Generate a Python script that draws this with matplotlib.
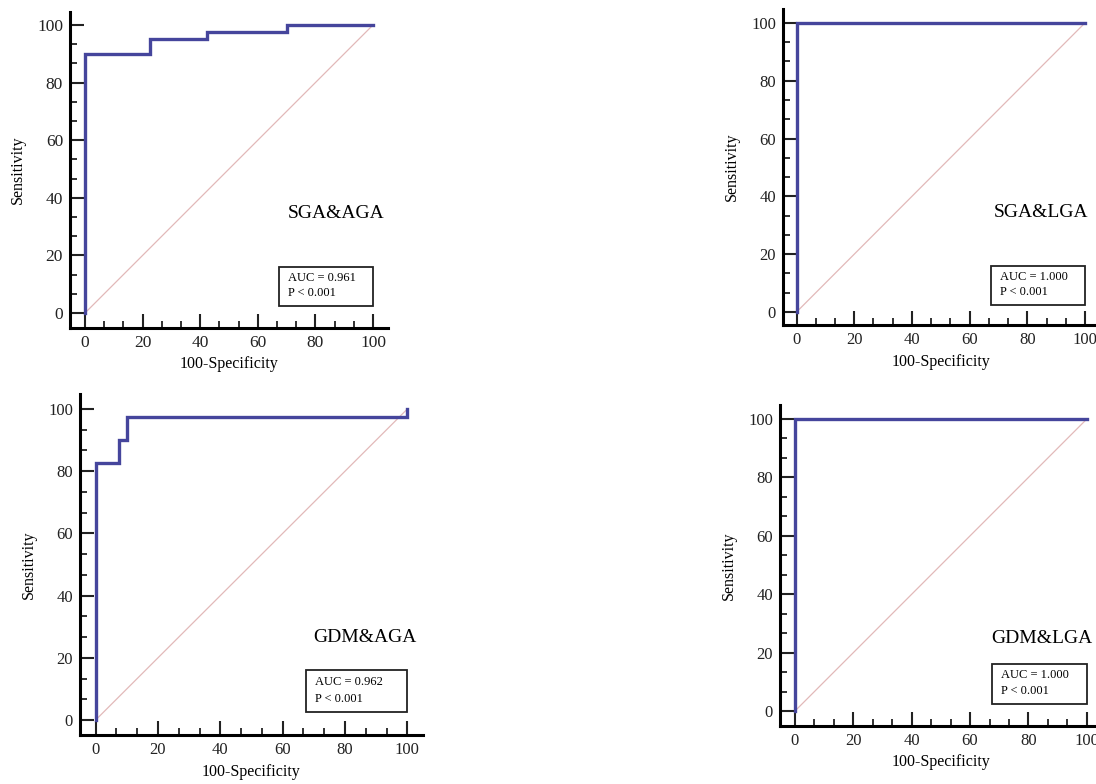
import matplotlib
matplotlib.use("Agg")
import matplotlib.pyplot as plt
from matplotlib.ticker import MultipleLocator, AutoMinorLocator
from matplotlib.patches import Rectangle

plt.rcParams['font.family'] = ['Liberation Serif', 'DejaVu Serif']

W, H = 1096, 784

# ROC step curves (100-Specificity, Sensitivity)
sga_aga_x = [0, 0, 22.5, 22.5, 42.5, 42.5, 70, 70, 100]
sga_aga_y = [0, 90, 90, 95, 95, 97.5, 97.5, 100, 100]
sga_lga_x = [0, 0, 100]
sga_lga_y = [0, 100, 100]
gdm_aga_x = [0, 0, 7.5, 7.5, 10, 10, 100, 100]
gdm_aga_y = [0, 82.5, 82.5, 90, 90, 97.5, 97.5, 100]
gdm_lga_x = [0, 0, 100]
gdm_lga_y = [0, 100, 100]

titles = ["SGA&AGA", "SGA&LGA", "GDM&AGA", "GDM&LGA"]
auc_values = ["0.961", "1.000", "0.962", "1.000"]
p_text = "P < 0.001"

curves = [(sga_aga_x, sga_aga_y), (sga_lga_x, sga_lga_y),
          (gdm_aga_x, gdm_aga_y), (gdm_lga_x, gdm_lga_y)]

# pixel boxes: left, right, top, bottom ; xlim ; ylim ; label position (x right, y center)
layouts = [
    dict(px=(70, 388, 12, 328), xlim=(-5.2, 105.2), ylim=(-5.2, 104.5), lab=(104, 34.7), fs=12.5),
    dict(px=(783, 1100, 9, 325), xlim=(-4.7, 105.2), ylim=(-4.5, 104.8), lab=(101, 34.3), fs=12),
    dict(px=(80, 423, 394, 735), xlim=(-5.0, 105.0), ylim=(-4.8, 104.8), lab=(102.8, 26.4), fs=12),
    dict(px=(780, 1102, 405, 726), xlim=(-5.1, 105.2), ylim=(-5.1, 104.8), lab=(102, 25.0), fs=12),
]

fig = plt.figure(figsize=(W / 100, H / 100), dpi=100)

for (xs, ys), title, auc, lay in zip(curves, titles, auc_values, layouts):
    l, r, t, b = lay['px']
    ax = fig.add_axes([l / W, 1 - b / H, (r - l) / W, (b - t) / H])
    ax.set_xlim(*lay['xlim'])
    ax.set_ylim(*lay['ylim'])
    ax.plot([0, 100], [0, 100], color='#e2b9b9', lw=0.9, zorder=1)
    ax.plot(xs, ys, color='#45459c', lw=2.4, zorder=3, solid_joinstyle='miter')
    for s in ['top', 'right']:
        ax.spines[s].set_visible(False)
    for s in ['left', 'bottom']:
        ax.spines[s].set_linewidth(2.2)
    ax.xaxis.set_major_locator(MultipleLocator(20))
    ax.yaxis.set_major_locator(MultipleLocator(20))
    ax.xaxis.set_minor_locator(AutoMinorLocator(3))
    ax.yaxis.set_minor_locator(AutoMinorLocator(3))
    ax.tick_params(which='major', direction='in', length=10, width=1.5,
                   labelsize=lay['fs'], pad=5, colors='#222222')
    ax.tick_params(which='minor', direction='in', length=5, width=1.3, colors='#222222')
    ax.set_xlabel("100-Specificity", fontsize=11.5, labelpad=4)
    ax.set_ylabel("Sensitivity", fontsize=11.5, labelpad=8)
    ax.text(lay['lab'][0], lay['lab'][1], title, ha='right', va='center', fontsize=14)
    ax.add_patch(Rectangle((67.5, 2.5), 32.5, 13.5, fill=False, ec='#222222', lw=1.3,
                           zorder=4, clip_on=False))
    ax.text(70.5, 12.2, "AUC = " + auc, ha='left', va='center', fontsize=9)
    ax.text(70.5, 6.8, p_text, ha='left', va='center', fontsize=9)

fig.savefig("out.png", dpi=100)
